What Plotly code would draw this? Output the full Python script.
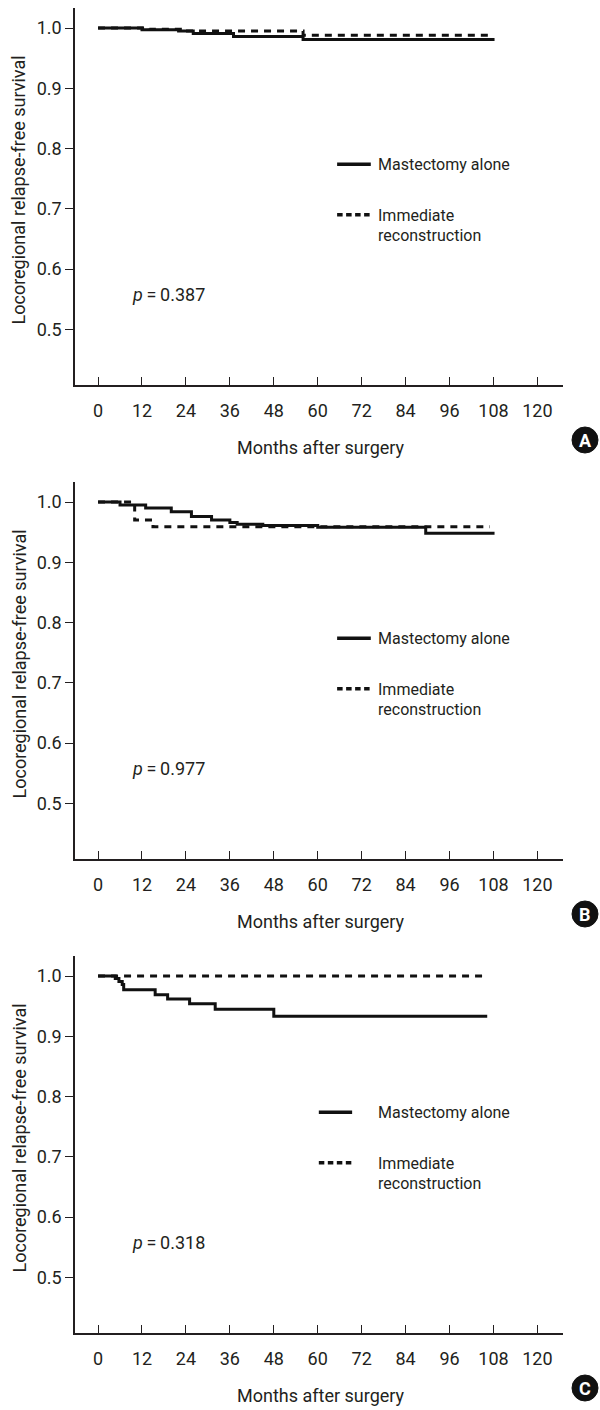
import plotly.graph_objects as go

# ---------------- data ----------------
month_ticks = [0, 12, 24, 36, 48, 60, 72, 84, 96, 108, 120]
surv_ticks = [0.5, 0.6, 0.7, 0.8, 0.9, 1.0]
surv_tick_text = ["0.5", "0.6", "0.7", "0.8", "0.9", "1.0"]

series_names = ["Mastectomy alone", "Immediate<br>reconstruction"]
panel_letters = ["A", "B", "C"]
p_values = ["0.387", "0.977", "0.318"]

# Panel A
a_mast_t = [0, 12, 22, 26, 37, 56, 108.3]
a_mast_s = [1.0, 0.997, 0.995, 0.991, 0.986, 0.981, 0.981]
a_imm_t = [0, 14, 24, 56, 107.5]
a_imm_s = [1.0, 0.998, 0.995, 0.988, 0.988]

# Panel B
b_mast_t = [0, 6, 13, 20, 25.5, 31, 36, 38, 45, 60, 89.5, 108.3]
b_mast_s = [1.0, 0.995, 0.990, 0.984, 0.976, 0.970, 0.966, 0.963, 0.961, 0.958, 0.948, 0.948]
b_imm_t = [0, 10, 15, 107]
b_imm_s = [1.0, 0.970, 0.959, 0.959]

# Panel C
c_mast_t = [0, 4.7, 5.7, 6.6, 7, 15.6, 19, 25, 32, 48, 106.3]
c_mast_s = [1.0, 0.996, 0.991, 0.986, 0.977, 0.969, 0.962, 0.954, 0.945, 0.933, 0.933]
c_imm_t = [0, 105.5]
c_imm_s = [1.0, 1.0]

panels = [
    (a_mast_t, a_mast_s, a_imm_t, a_imm_s),
    (b_mast_t, b_mast_s, b_imm_t, b_imm_s),
    (c_mast_t, c_mast_s, c_imm_t, c_imm_s),
]

# ---------------- layout helpers ----------------
W, H = 600, 1410
INK = "#231f20"
LINE = "#111111"
FONT = "Roboto"
offsets = [0, 474, 948]
legend_x = [(65.3, 74.5), (65.3, 74.5), (60.3, 69.4)]
PX_PER_UNIT = 602.5  # pixels per 1.0 of survival

fig = go.Figure()


def py(px):
    return 1 - px / H


for i, (mt, ms, it, iss) in enumerate(panels):
    off = offsets[i]
    sfx = "" if i == 0 else str(i + 1)
    xa, ya = "x" + sfx, "y" + sfx
    fig.add_trace(go.Scatter(x=mt, y=ms, mode="lines", name=series_names[0],
                             line=dict(shape="hv", color=LINE, width=3),
                             xaxis=xa, yaxis=ya, showlegend=False, hoverinfo="skip"))
    fig.add_trace(go.Scatter(x=it, y=iss, mode="lines", name=series_names[1],
                             line=dict(shape="hv", color=LINE, width=3, dash="7px,6px"),
                             xaxis=xa, yaxis=ya, showlegend=False, hoverinfo="skip"))

    top, bottom = 8 + off, 385 + off
    fig.layout["xaxis" + sfx] = dict(
        domain=[75 / W, 563 / W], range=[-6.3, 127], anchor=ya,
        showline=True, linecolor=INK, linewidth=1.5, mirror=False,
        ticks="inside", ticklen=8, tickwidth=1, tickcolor=INK,
        tickvals=month_ticks, ticktext=[str(m) for m in month_ticks],
        showgrid=False, zeroline=False, ticklabelstandoff=9,
        tickfont=dict(family=FONT, size=18, color=INK), fixedrange=True,
    )
    fig.layout["yaxis" + sfx] = dict(
        domain=[py(bottom), py(top)], range=[0.4075, 1.0332], anchor=xa,
        showline=True, linecolor=INK, linewidth=1.5,
        ticks="outside", ticklen=8, tickwidth=1, tickcolor=INK,
        tickvals=surv_ticks, ticktext=surv_tick_text,
        showgrid=False, zeroline=False, ticklabelstandoff=0,
        tickfont=dict(family=FONT, size=18, color=INK), fixedrange=True,
    )

    # axis titles
    fig.add_annotation(text="Locoregional relapse-free survival", xref="paper", yref="paper",
                       x=18.5 / W, y=py(190 + off), textangle=-90, showarrow=False,
                       font=dict(family=FONT, size=18, color=INK), xanchor="center", yanchor="middle")
    fig.add_annotation(text="Months after surgery", xref="paper", yref="paper",
                       x=321 / W, y=py(447 + off), showarrow=False,
                       font=dict(family=FONT, size=18, color=INK), xanchor="center", yanchor="middle")

    # p value
    fig.add_annotation(text="<i>p</i>\u2009=\u2009" + p_values[i], xref=xa, yref=ya,
                       x=8.8, y=0.557, showarrow=False, xanchor="left", yanchor="middle",
                       font=dict(family=FONT, size=18, color=INK))

    # legend
    lx0, lx1 = legend_x[i]
    y_solid, y_dash = 0.774, 0.690
    fig.add_shape(type="line", xref=xa, yref=ya, x0=lx0, x1=lx1, y0=y_solid, y1=y_solid,
                  line=dict(color=LINE, width=3.5))
    fig.add_shape(type="line", xref=xa, yref=ya, x0=lx0, x1=lx1, y0=y_dash, y1=y_dash,
                  line=dict(color=LINE, width=3.5, dash="5.5px,3.5px"))
    fig.add_annotation(text=series_names[0], xref=xa, yref=ya, x=76.0, y=y_solid,
                       showarrow=False, xanchor="left", yanchor="middle", align="left",
                       font=dict(family=FONT, size=16, color=INK))
    for k, part in enumerate(series_names[1].split("<br>")):
        fig.add_annotation(text=part, xref=xa, yref=ya, x=76.0,
                           y=y_dash - (1 + 20 * k) / PX_PER_UNIT,
                           showarrow=False, xanchor="left", yanchor="middle", align="left",
                           font=dict(family=FONT, size=16, color=INK))

    # panel letter badge
    cx, cy, r = 585, 440 + off, 13
    fig.add_shape(type="circle", xref="paper", yref="paper",
                  x0=(cx - r) / W, x1=(cx + r) / W, y0=py(cy + r), y1=py(cy - r),
                  fillcolor=LINE, line=dict(color=LINE, width=1))
    fig.add_annotation(text="<b>" + panel_letters[i] + "</b>", xref="paper", yref="paper",
                       x=cx / W, y=py(cy), showarrow=False, xanchor="center", yanchor="middle",
                       font=dict(family=FONT, size=18, color="white"))

fig.update_layout(width=W, height=H, margin=dict(l=0, r=0, t=0, b=0),
                  plot_bgcolor="white", paper_bgcolor="white", showlegend=False)

fig.write_html("out.html", config={"displayModeBar": False})
